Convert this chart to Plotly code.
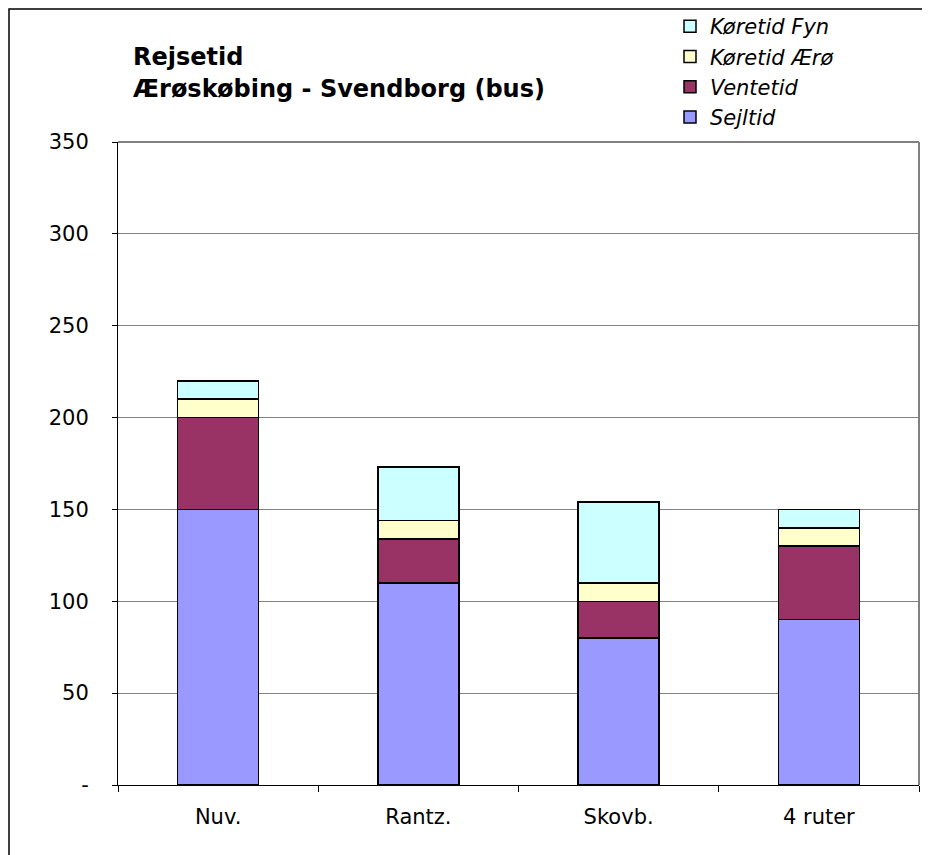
import plotly.graph_objects as go

categories = ["Nuv.", "Rantz.", "Skovb.", "4 ruter"]
sejltid = [150, 110, 80, 90]
ventetid = [50, 24, 20, 40]
koretid_aero = [10, 10, 10, 10]
koretid_fyn = [10, 29, 44, 10]

series_names = ["Sejltid", "Ventetid", "Køretid Ærø", "Køretid Fyn"]
series_values = [sejltid, ventetid, koretid_aero, koretid_fyn]
series_colors = ["#9999FF", "#993366", "#FFFFCC", "#CCFFFF"]

y_tickvals = [0, 50, 100, 150, 200, 250, 300, 350]
y_ticktext = ["-", "50", "100", "150", "200", "250", "300", "350"]

FONT = "Verdana, DejaVu Sans, sans-serif"
# page offset of 8px (body margin); coordinates below are figure coordinates
L, T, R, B = 110, 134, 19, 78
PW = 930 - L - R
PH = 855 - T - B

fig = go.Figure()
for name, vals, col in zip(series_names, series_values, series_colors):
    fig.add_trace(go.Bar(
        x=categories, y=vals, name=name,
        marker=dict(color=col, line=dict(color="black", width=1.5)),
        width=0.405,
    ))

fig.update_layout(
    barmode="stack",
    width=930, height=855,
    margin=dict(l=L, r=R, t=T, b=B, autoexpand=False),
    paper_bgcolor="white", plot_bgcolor="white",
    font=dict(family=FONT, size=20, color="black"),
    showlegend=True,
    legend=dict(
        traceorder="reversed",
        xref="paper", yref="paper",
        x=(662 - L) / PW, y=(PH + T + 2) / PH, xanchor="left", yanchor="top",
        font=dict(family=FONT, size=21, style="italic"),
        bgcolor="rgba(0,0,0,0)",
        itemwidth=30,
        tracegroupgap=0,
    ),
    xaxis=dict(
        type="category",
        tickson="boundaries",
        ticks="outside", ticklen=6, tickcolor="black",
        showline=True, linecolor="black", linewidth=1,
        showgrid=False,
        ticklabelstandoff=13,
        tickfont=dict(size=21),
    ),
    yaxis=dict(
        range=[0, 350],
        tickvals=y_tickvals, ticktext=y_ticktext,
        ticks="outside", ticklen=5, tickcolor="black",
        showline=True, linecolor="black", linewidth=1,
        showgrid=True, gridcolor="#808080", gridwidth=1,
        zeroline=False,
        ticklabelstandoff=19,
        tickfont=dict(size=21),
    ),
    annotations=[
        dict(text="<b>Rejsetid</b>", xref="paper", yref="paper",
             x=13 / PW, y=(PH + T - 49) / PH, xanchor="left", yanchor="middle",
             showarrow=False, font=dict(family=FONT, size=24)),
        dict(text="<b>Ærøskøbing - Svendborg (bus)</b>", xref="paper", yref="paper",
             x=13 / PW, y=(PH + T - 81) / PH, xanchor="left", yanchor="middle",
             showarrow=False, font=dict(family=FONT, size=24)),
    ],
    shapes=[
        dict(type="line", xref="paper", yref="paper", x0=0, x1=1, y0=1, y1=1,
             line=dict(color="#808080", width=2)),
        dict(type="line", xref="paper", yref="paper", x0=1, x1=1, y0=0, y1=1,
             line=dict(color="#808080", width=2)),
        dict(type="rect", xref="paper", yref="paper",
             x0=(1 - L) / PW, x1=1 + 40 / PW, y0=-100 / PH, y1=(PH + T - 1) / PH,
             line=dict(color="black", width=1.5), fillcolor="rgba(0,0,0,0)",
             layer="below"),
    ],
)

fig.write_html("out.html")
